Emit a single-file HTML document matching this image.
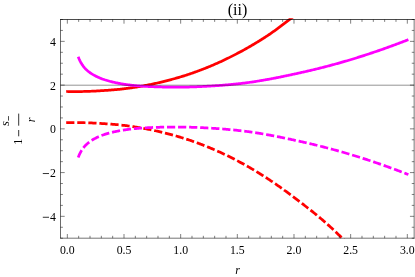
<!DOCTYPE html>
<html><head><meta charset="utf-8"><title>plot</title>
<style>html,body{margin:0;padding:0;background:#fff;}svg{display:block;will-change:transform;opacity:0.999;}text{font-family:"Liberation Serif",serif;fill:#000;}</style></head><body>
<svg width="415" height="277" viewBox="0 0 415 277">
<rect width="415" height="277" fill="#fff"/>
<defs><clipPath id="c"><rect x="59.20" y="18.20" width="356.25" height="220.70"/></clipPath></defs>
<g clip-path="url(#c)" fill="none" stroke-width="2.75" stroke-linejoin="round">
<path d="M66.20 91.47 L67.19 91.50 L68.18 91.52 L69.17 91.54 L70.16 91.56 L71.15 91.57 L72.14 91.58 L73.13 91.58 L74.12 91.59 L75.11 91.59 L76.10 91.59 L77.09 91.58 L78.08 91.58 L79.07 91.57 L80.06 91.55 L81.05 91.54 L82.04 91.52 L83.03 91.50 L84.02 91.48 L85.01 91.45 L86.00 91.42 L87.00 91.39 L87.99 91.36 L88.98 91.33 L89.97 91.29 L90.96 91.25 L91.95 91.21 L92.94 91.16 L93.93 91.12 L94.92 91.07 L95.91 91.02 L96.90 90.97 L97.89 90.91 L98.88 90.86 L99.87 90.80 L100.86 90.74 L101.85 90.68 L102.84 90.61 L103.83 90.55 L104.82 90.48 L105.81 90.41 L106.80 90.34 L107.79 90.27 L108.79 90.20 L109.78 90.13 L110.77 90.05 L111.76 89.97 L112.75 89.89 L113.74 89.81 L114.73 89.73 L115.72 89.64 L116.71 89.55 L117.70 89.46 L118.69 89.36 L119.68 89.26 L120.67 89.16 L121.66 89.05 L122.65 88.94 L123.64 88.83 L124.63 88.71 L125.62 88.59 L126.61 88.47 L127.60 88.34 L128.59 88.21 L129.58 88.07 L130.58 87.93 L131.57 87.79 L132.56 87.64 L133.55 87.49 L134.54 87.34 L135.53 87.19 L136.52 87.03 L137.51 86.87 L138.50 86.71 L139.49 86.54 L140.48 86.37 L141.47 86.19 L142.46 86.02 L143.45 85.84 L144.44 85.66 L145.43 85.47 L146.42 85.28 L147.41 85.09 L148.40 84.89 L149.39 84.70 L150.38 84.50 L151.37 84.29 L152.36 84.08 L153.36 83.87 L154.35 83.66 L155.34 83.44 L156.33 83.22 L157.32 83.00 L158.31 82.77 L159.30 82.54 L160.29 82.31 L161.28 82.07 L162.27 81.83 L163.26 81.59 L164.25 81.35 L165.24 81.10 L166.23 80.85 L167.22 80.59 L168.21 80.33 L169.20 80.07 L170.19 79.81 L171.18 79.55 L172.17 79.28 L173.16 79.01 L174.15 78.73 L175.15 78.46 L176.14 78.18 L177.13 77.90 L178.12 77.61 L179.11 77.32 L180.10 77.03 L181.09 76.73 L182.08 76.43 L183.07 76.13 L184.06 75.82 L185.05 75.51 L186.04 75.19 L187.03 74.87 L188.02 74.55 L189.01 74.22 L190.00 73.89 L190.99 73.55 L191.98 73.21 L192.97 72.86 L193.96 72.51 L194.95 72.16 L195.94 71.80 L196.94 71.44 L197.93 71.07 L198.92 70.71 L199.91 70.33 L200.90 69.96 L201.89 69.58 L202.88 69.19 L203.87 68.80 L204.86 68.41 L205.85 68.02 L206.84 67.62 L207.83 67.22 L208.82 66.81 L209.81 66.40 L210.80 65.98 L211.79 65.57 L212.78 65.14 L213.77 64.72 L214.76 64.29 L215.75 63.85 L216.74 63.42 L217.73 62.98 L218.72 62.53 L219.72 62.08 L220.71 61.63 L221.70 61.17 L222.69 60.71 L223.68 60.25 L224.67 59.78 L225.66 59.31 L226.65 58.83 L227.64 58.35 L228.63 57.87 L229.62 57.38 L230.61 56.89 L231.60 56.39 L232.59 55.89 L233.58 55.39 L234.57 54.88 L235.56 54.37 L236.55 53.85 L237.54 53.33 L238.53 52.81 L239.52 52.28 L240.51 51.75 L241.51 51.21 L242.50 50.67 L243.49 50.13 L244.48 49.58 L245.47 49.02 L246.46 48.47 L247.45 47.91 L248.44 47.34 L249.43 46.77 L250.42 46.20 L251.41 45.62 L252.40 45.04 L253.39 44.45 L254.38 43.86 L255.37 43.27 L256.36 42.67 L257.35 42.07 L258.34 41.46 L259.33 40.85 L260.32 40.23 L261.31 39.61 L262.30 38.99 L263.30 38.36 L264.29 37.73 L265.28 37.09 L266.27 36.45 L267.26 35.80 L268.25 35.16 L269.24 34.50 L270.23 33.82 L271.22 33.14 L272.21 32.45 L273.20 31.74 L274.19 31.03 L275.18 30.32 L276.17 29.59 L277.16 28.87 L278.15 28.14 L279.14 27.40 L280.13 26.67 L281.12 25.93 L282.11 25.18 L283.10 24.43 L284.09 23.67 L285.09 22.91 L286.08 22.16 L287.07 21.40 L288.06 20.64 L289.05 19.89 L290.04 19.13 L291.03 18.37 L292.02 17.62 L293.01 16.87 L294.00 16.12 L294.99 15.38 L295.98 14.63 L296.97 13.89 L297.96 13.14 L298.95 12.40 L299.94 11.64 L300.93 10.89 L301.92 10.13 L302.91 9.37 L303.90 8.60 L304.89 7.83 L305.88 7.05 L306.87 6.28 L307.87 5.50 L308.86 4.72 L309.85 3.95 L310.84 3.17 L311.83 2.38 L312.82 1.60 L313.81 0.81 L314.80 0.01 L315.79 -0.79 L316.78 -1.60 L317.77 -2.41 L318.76 -3.24 L319.75 -4.07 L320.74 -4.91 L321.73 -5.76 L322.72 -6.61 L323.71 -7.47 L324.70 -8.34 L325.69 -9.21 L326.68 -10.08 L327.67 -10.97 L328.66 -11.85 L329.66 -12.75 L330.65 -13.65 L331.64 -14.56 L332.63 -15.47 L333.62 -16.39 L334.61 -17.32 L335.60 -18.25 L336.59 -19.19 L337.58 -20.14 L338.57 -21.10 L339.56 -22.05 L340.55 -23.02 L341.54 -23.99 L342.53 -24.97 L343.52 -25.96 L344.51 -26.95 L345.50 -27.94 L346.49 -28.95 L347.48 -29.95 L348.47 -30.97 L349.46 -31.99 L350.45 -33.01 L351.45 -34.04 L352.44 -35.08 L353.43 -36.12 L354.42 -37.16 L355.41 -38.22 L356.40 -39.28 L357.39 -40.34 L358.38 -41.41 L359.37 -42.49 L360.36 -43.57 L361.35 -44.66 L362.34 -45.75" stroke="#ff0000"/>
<path d="M78.18 56.69 L79.01 58.77 L79.84 60.59 L80.66 62.19 L81.49 63.62 L82.32 64.90 L83.15 66.06 L83.98 67.11 L84.80 68.07 L85.63 68.95 L86.46 69.77 L87.29 70.52 L88.11 71.22 L88.94 71.88 L89.77 72.50 L90.60 73.08 L91.42 73.63 L92.25 74.16 L93.08 74.66 L93.91 75.13 L94.73 75.59 L95.56 76.02 L96.39 76.44 L97.22 76.84 L98.04 77.22 L98.87 77.59 L99.70 77.94 L100.53 78.28 L101.35 78.61 L102.18 78.92 L103.01 79.22 L103.84 79.51 L104.66 79.79 L105.49 80.05 L106.32 80.31 L107.15 80.55 L107.97 80.79 L108.80 81.02 L109.63 81.24 L110.46 81.46 L111.28 81.67 L112.11 81.87 L112.94 82.07 L113.77 82.26 L114.60 82.44 L115.42 82.63 L116.25 82.80 L117.08 82.97 L117.91 83.14 L118.73 83.30 L119.56 83.45 L120.39 83.60 L121.22 83.75 L122.04 83.89 L122.87 84.03 L123.70 84.16 L124.53 84.29 L125.35 84.42 L126.18 84.54 L127.01 84.65 L127.84 84.76 L128.66 84.87 L129.49 84.97 L130.32 85.07 L131.15 85.17 L131.97 85.26 L132.80 85.35 L133.63 85.44 L134.46 85.52 L135.28 85.60 L136.11 85.68 L136.94 85.75 L137.77 85.82 L138.59 85.89 L139.42 85.96 L140.25 86.02 L141.08 86.08 L141.90 86.14 L142.73 86.20 L143.56 86.25 L144.39 86.30 L145.21 86.35 L146.04 86.40 L146.87 86.45 L147.70 86.49 L148.53 86.53 L149.35 86.57 L150.18 86.61 L151.01 86.65 L151.84 86.68 L152.66 86.72 L153.49 86.75 L154.32 86.78 L155.15 86.81 L155.97 86.83 L156.80 86.86 L157.63 86.89 L158.46 86.91 L159.28 86.93 L160.11 86.96 L160.94 86.98 L161.77 87.00 L162.59 87.02 L163.42 87.04 L164.25 87.05 L165.08 87.07 L165.90 87.09 L166.73 87.10 L167.56 87.12 L168.39 87.13 L169.21 87.14 L170.04 87.15 L170.87 87.16 L171.70 87.17 L172.52 87.18 L173.35 87.18 L174.18 87.19 L175.01 87.19 L175.83 87.19 L176.66 87.19 L177.49 87.19 L178.32 87.18 L179.15 87.18 L179.97 87.17 L180.80 87.16 L181.63 87.15 L182.46 87.14 L183.28 87.13 L184.11 87.12 L184.94 87.10 L185.77 87.09 L186.59 87.07 L187.42 87.05 L188.25 87.03 L189.08 87.01 L189.90 86.99 L190.73 86.97 L191.56 86.94 L192.39 86.91 L193.21 86.89 L194.04 86.86 L194.87 86.83 L195.70 86.80 L196.52 86.76 L197.35 86.73 L198.18 86.69 L199.01 86.66 L199.83 86.62 L200.66 86.58 L201.49 86.54 L202.32 86.50 L203.14 86.46 L203.97 86.41 L204.80 86.37 L205.63 86.32 L206.45 86.28 L207.28 86.23 L208.11 86.19 L208.94 86.14 L209.76 86.09 L210.59 86.05 L211.42 86.00 L212.25 85.95 L213.08 85.90 L213.90 85.85 L214.73 85.79 L215.56 85.74 L216.39 85.68 L217.21 85.63 L218.04 85.57 L218.87 85.51 L219.70 85.45 L220.52 85.39 L221.35 85.33 L222.18 85.26 L223.01 85.20 L223.83 85.13 L224.66 85.06 L225.49 84.99 L226.32 84.92 L227.14 84.84 L227.97 84.77 L228.80 84.69 L229.63 84.62 L230.45 84.54 L231.28 84.46 L232.11 84.38 L232.94 84.30 L233.76 84.22 L234.59 84.13 L235.42 84.05 L236.25 83.96 L237.07 83.87 L237.90 83.78 L238.73 83.69 L239.56 83.60 L240.38 83.51 L241.21 83.41 L242.04 83.32 L242.87 83.22 L243.70 83.12 L244.52 83.02 L245.35 82.91 L246.18 82.81 L247.01 82.70 L247.83 82.60 L248.66 82.49 L249.49 82.37 L250.32 82.26 L251.14 82.14 L251.97 82.02 L252.80 81.90 L253.63 81.78 L254.45 81.65 L255.28 81.52 L256.11 81.39 L256.94 81.26 L257.76 81.13 L258.59 81.00 L259.42 80.86 L260.25 80.72 L261.07 80.58 L261.90 80.44 L262.73 80.30 L263.56 80.16 L264.38 80.01 L265.21 79.87 L266.04 79.72 L266.87 79.57 L267.69 79.43 L268.52 79.28 L269.35 79.13 L270.18 78.98 L271.00 78.83 L271.83 78.67 L272.66 78.52 L273.49 78.36 L274.31 78.21 L275.14 78.05 L275.97 77.89 L276.80 77.72 L277.63 77.56 L278.45 77.40 L279.28 77.23 L280.11 77.06 L280.94 76.89 L281.76 76.72 L282.59 76.55 L283.42 76.38 L284.25 76.21 L285.07 76.03 L285.90 75.86 L286.73 75.68 L287.56 75.51 L288.38 75.33 L289.21 75.15 L290.04 74.98 L290.87 74.80 L291.69 74.62 L292.52 74.44 L293.35 74.26 L294.18 74.08 L295.00 73.91 L295.83 73.73 L296.66 73.55 L297.49 73.37 L298.31 73.19 L299.14 73.01 L299.97 72.83 L300.80 72.64 L301.62 72.46 L302.45 72.28 L303.28 72.09 L304.11 71.90 L304.93 71.72 L305.76 71.53 L306.59 71.34 L307.42 71.15 L308.25 70.95 L309.07 70.76 L309.90 70.57 L310.73 70.37 L311.56 70.17 L312.38 69.98 L313.21 69.78 L314.04 69.58 L314.87 69.38 L315.69 69.18 L316.52 68.97 L317.35 68.77 L318.18 68.57 L319.00 68.36 L319.83 68.15 L320.66 67.95 L321.49 67.74 L322.31 67.53 L323.14 67.32 L323.97 67.10 L324.80 66.89 L325.62 66.67 L326.45 66.46 L327.28 66.24 L328.11 66.02 L328.93 65.81 L329.76 65.59 L330.59 65.36 L331.42 65.14 L332.24 64.92 L333.07 64.69 L333.90 64.47 L334.73 64.24 L335.55 64.01 L336.38 63.79 L337.21 63.56 L338.04 63.32 L338.87 63.09 L339.69 62.86 L340.52 62.62 L341.35 62.39 L342.18 62.15 L343.00 61.91 L343.83 61.67 L344.66 61.43 L345.49 61.19 L346.31 60.95 L347.14 60.71 L347.97 60.46 L348.80 60.22 L349.62 59.97 L350.45 59.72 L351.28 59.47 L352.11 59.22 L352.93 58.97 L353.76 58.72 L354.59 58.46 L355.42 58.21 L356.24 57.95 L357.07 57.69 L357.90 57.44 L358.73 57.18 L359.55 56.92 L360.38 56.65 L361.21 56.39 L362.04 56.13 L362.86 55.86 L363.69 55.60 L364.52 55.33 L365.35 55.06 L366.17 54.79 L367.00 54.52 L367.83 54.25 L368.66 53.98 L369.48 53.70 L370.31 53.43 L371.14 53.15 L371.97 52.87 L372.80 52.60 L373.62 52.32 L374.45 52.04 L375.28 51.76 L376.11 51.47 L376.93 51.19 L377.76 50.90 L378.59 50.62 L379.42 50.33 L380.24 50.04 L381.07 49.76 L381.90 49.47 L382.73 49.17 L383.55 48.88 L384.38 48.59 L385.21 48.29 L386.04 48.00 L386.86 47.70 L387.69 47.41 L388.52 47.11 L389.35 46.81 L390.17 46.51 L391.00 46.21 L391.83 45.90 L392.66 45.60 L393.48 45.29 L394.31 44.99 L395.14 44.68 L395.97 44.37 L396.79 44.07 L397.62 43.76 L398.45 43.44 L399.28 43.13 L400.10 42.82 L400.93 42.51 L401.76 42.19 L402.59 41.87 L403.42 41.56 L404.24 41.24 L405.07 40.92 L405.90 40.60 L406.73 40.28 L407.55 39.96 L408.38 39.63" stroke="#ff00ff"/>
<path d="M66.20 122.73 L67.19 122.70 L68.18 122.68 L69.17 122.66 L70.16 122.64 L71.15 122.63 L72.14 122.62 L73.13 122.62 L74.12 122.61 L75.11 122.61 L76.10 122.61 L77.09 122.62 L78.08 122.62 L79.07 122.63 L80.06 122.65 L81.05 122.66 L82.04 122.68 L83.03 122.70 L84.02 122.72 L85.01 122.75 L86.00 122.78 L87.00 122.81 L87.99 122.84 L88.98 122.87 L89.97 122.91 L90.96 122.95 L91.95 122.99 L92.94 123.04 L93.93 123.08 L94.92 123.13 L95.91 123.18 L96.90 123.23 L97.89 123.29 L98.88 123.34 L99.87 123.40 L100.86 123.46 L101.85 123.52 L102.84 123.59 L103.83 123.65 L104.82 123.72 L105.81 123.79 L106.80 123.86 L107.79 123.93 L108.79 124.00 L109.78 124.07 L110.77 124.15 L111.76 124.23 L112.75 124.31 L113.74 124.39 L114.73 124.47 L115.72 124.56 L116.71 124.65 L117.70 124.74 L118.69 124.84 L119.68 124.94 L120.67 125.04 L121.66 125.15 L122.65 125.26 L123.64 125.37 L124.63 125.49 L125.62 125.61 L126.61 125.73 L127.60 125.86 L128.59 125.99 L129.58 126.13 L130.58 126.27 L131.57 126.41 L132.56 126.56 L133.55 126.71 L134.54 126.86 L135.53 127.01 L136.52 127.17 L137.51 127.33 L138.50 127.49 L139.49 127.66 L140.48 127.83 L141.47 128.01 L142.46 128.18 L143.45 128.36 L144.44 128.54 L145.43 128.73 L146.42 128.92 L147.41 129.11 L148.40 129.31 L149.39 129.50 L150.38 129.70 L151.37 129.91 L152.36 130.12 L153.36 130.33 L154.35 130.54 L155.34 130.76 L156.33 130.98 L157.32 131.20 L158.31 131.43 L159.30 131.66 L160.29 131.89 L161.28 132.13 L162.27 132.37 L163.26 132.61 L164.25 132.85 L165.24 133.10 L166.23 133.35 L167.22 133.61 L168.21 133.87 L169.20 134.13 L170.19 134.39 L171.18 134.65 L172.17 134.92 L173.16 135.19 L174.15 135.47 L175.15 135.74 L176.14 136.02 L177.13 136.30 L178.12 136.59 L179.11 136.88 L180.10 137.17 L181.09 137.47 L182.08 137.77 L183.07 138.07 L184.06 138.38 L185.05 138.69 L186.04 139.01 L187.03 139.33 L188.02 139.65 L189.01 139.98 L190.00 140.31 L190.99 140.65 L191.98 140.99 L192.97 141.34 L193.96 141.69 L194.95 142.04 L195.94 142.40 L196.94 142.76 L197.93 143.13 L198.92 143.49 L199.91 143.87 L200.90 144.24 L201.89 144.62 L202.88 145.01 L203.87 145.40 L204.86 145.79 L205.85 146.18 L206.84 146.58 L207.83 146.98 L208.82 147.39 L209.81 147.80 L210.80 148.22 L211.79 148.63 L212.78 149.06 L213.77 149.48 L214.76 149.91 L215.75 150.35 L216.74 150.78 L217.73 151.22 L218.72 151.67 L219.72 152.12 L220.71 152.57 L221.70 153.03 L222.69 153.49 L223.68 153.95 L224.67 154.42 L225.66 154.89 L226.65 155.37 L227.64 155.85 L228.63 156.33 L229.62 156.82 L230.61 157.31 L231.60 157.81 L232.59 158.31 L233.58 158.81 L234.57 159.32 L235.56 159.83 L236.55 160.35 L237.54 160.87 L238.53 161.39 L239.52 161.92 L240.51 162.45 L241.51 162.99 L242.50 163.53 L243.49 164.07 L244.48 164.62 L245.47 165.18 L246.46 165.73 L247.45 166.29 L248.44 166.86 L249.43 167.43 L250.42 168.00 L251.41 168.58 L252.40 169.16 L253.39 169.75 L254.38 170.34 L255.37 170.93 L256.36 171.53 L257.35 172.13 L258.34 172.74 L259.33 173.35 L260.32 173.97 L261.31 174.59 L262.30 175.21 L263.30 175.84 L264.29 176.47 L265.28 177.11 L266.27 177.75 L267.26 178.40 L268.25 179.04 L269.24 179.70 L270.23 180.36 L271.22 181.02 L272.21 181.68 L273.20 182.36 L274.19 183.03 L275.18 183.71 L276.17 184.39 L277.16 185.08 L278.15 185.78 L279.14 186.47 L280.13 187.18 L281.12 187.88 L282.11 188.59 L283.10 189.31 L284.09 190.03 L285.09 190.75 L286.08 191.48 L287.07 192.22 L288.06 192.96 L289.05 193.70 L290.04 194.45 L291.03 195.19 L292.02 195.94 L293.01 196.69 L294.00 197.43 L294.99 198.17 L295.98 198.92 L296.97 199.66 L297.96 200.41 L298.95 201.15 L299.94 201.91 L300.93 202.66 L301.92 203.42 L302.91 204.18 L303.90 204.95 L304.89 205.72 L305.88 206.50 L306.87 207.27 L307.87 208.05 L308.86 208.83 L309.85 209.60 L310.84 210.38 L311.83 211.17 L312.82 211.95 L313.81 212.74 L314.80 213.54 L315.79 214.34 L316.78 215.15 L317.77 215.96 L318.76 216.79 L319.75 217.62 L320.74 218.46 L321.73 219.31 L322.72 220.16 L323.71 221.02 L324.70 221.89 L325.69 222.76 L326.68 223.63 L327.67 224.52 L328.66 225.40 L329.66 226.30 L330.65 227.20 L331.64 228.11 L332.63 229.02 L333.62 229.94 L334.61 230.87 L335.60 231.80 L336.59 232.74 L337.58 233.69 L338.57 234.65 L339.56 235.60 L340.55 236.57 L341.54 237.54 L342.53 238.52 L343.52 239.51 L344.51 240.50 L345.50 241.49 L346.49 242.50 L347.48 243.50 L348.47 244.52 L349.46 245.54 L350.45 246.56 L351.45 247.59 L352.44 248.63 L353.43 249.67 L354.42 250.71 L355.41 251.77 L356.40 252.83 L357.39 253.89 L358.38 254.96 L359.37 256.04 L360.36 257.12 L361.35 258.21 L362.34 259.30" stroke="#ff0000" stroke-dasharray="8.2 2.87"/>
<path d="M78.18 157.51 L79.01 155.43 L79.84 153.61 L80.66 152.01 L81.49 150.58 L82.32 149.30 L83.15 148.14 L83.98 147.09 L84.80 146.13 L85.63 145.25 L86.46 144.43 L87.29 143.68 L88.11 142.98 L88.94 142.32 L89.77 141.70 L90.60 141.12 L91.42 140.57 L92.25 140.04 L93.08 139.54 L93.91 139.07 L94.73 138.61 L95.56 138.18 L96.39 137.76 L97.22 137.36 L98.04 136.98 L98.87 136.61 L99.70 136.26 L100.53 135.92 L101.35 135.59 L102.18 135.28 L103.01 134.98 L103.84 134.69 L104.66 134.41 L105.49 134.15 L106.32 133.89 L107.15 133.65 L107.97 133.41 L108.80 133.18 L109.63 132.96 L110.46 132.74 L111.28 132.53 L112.11 132.33 L112.94 132.13 L113.77 131.94 L114.60 131.76 L115.42 131.57 L116.25 131.40 L117.08 131.23 L117.91 131.06 L118.73 130.90 L119.56 130.75 L120.39 130.60 L121.22 130.45 L122.04 130.31 L122.87 130.17 L123.70 130.04 L124.53 129.91 L125.35 129.78 L126.18 129.66 L127.01 129.55 L127.84 129.44 L128.66 129.33 L129.49 129.23 L130.32 129.13 L131.15 129.03 L131.97 128.94 L132.80 128.85 L133.63 128.76 L134.46 128.68 L135.28 128.60 L136.11 128.52 L136.94 128.45 L137.77 128.38 L138.59 128.31 L139.42 128.24 L140.25 128.18 L141.08 128.12 L141.90 128.06 L142.73 128.00 L143.56 127.95 L144.39 127.90 L145.21 127.85 L146.04 127.80 L146.87 127.75 L147.70 127.71 L148.53 127.67 L149.35 127.63 L150.18 127.59 L151.01 127.55 L151.84 127.52 L152.66 127.48 L153.49 127.45 L154.32 127.42 L155.15 127.39 L155.97 127.37 L156.80 127.34 L157.63 127.31 L158.46 127.29 L159.28 127.27 L160.11 127.24 L160.94 127.22 L161.77 127.20 L162.59 127.18 L163.42 127.16 L164.25 127.15 L165.08 127.13 L165.90 127.11 L166.73 127.10 L167.56 127.08 L168.39 127.07 L169.21 127.06 L170.04 127.05 L170.87 127.04 L171.70 127.03 L172.52 127.02 L173.35 127.02 L174.18 127.01 L175.01 127.01 L175.83 127.01 L176.66 127.01 L177.49 127.01 L178.32 127.02 L179.15 127.02 L179.97 127.03 L180.80 127.04 L181.63 127.05 L182.46 127.06 L183.28 127.07 L184.11 127.08 L184.94 127.10 L185.77 127.11 L186.59 127.13 L187.42 127.15 L188.25 127.17 L189.08 127.19 L189.90 127.21 L190.73 127.23 L191.56 127.26 L192.39 127.29 L193.21 127.31 L194.04 127.34 L194.87 127.37 L195.70 127.40 L196.52 127.44 L197.35 127.47 L198.18 127.51 L199.01 127.54 L199.83 127.58 L200.66 127.62 L201.49 127.66 L202.32 127.70 L203.14 127.74 L203.97 127.79 L204.80 127.83 L205.63 127.88 L206.45 127.92 L207.28 127.97 L208.11 128.01 L208.94 128.06 L209.76 128.11 L210.59 128.15 L211.42 128.20 L212.25 128.25 L213.08 128.30 L213.90 128.35 L214.73 128.41 L215.56 128.46 L216.39 128.52 L217.21 128.57 L218.04 128.63 L218.87 128.69 L219.70 128.75 L220.52 128.81 L221.35 128.87 L222.18 128.94 L223.01 129.00 L223.83 129.07 L224.66 129.14 L225.49 129.21 L226.32 129.28 L227.14 129.36 L227.97 129.43 L228.80 129.51 L229.63 129.58 L230.45 129.66 L231.28 129.74 L232.11 129.82 L232.94 129.90 L233.76 129.98 L234.59 130.07 L235.42 130.15 L236.25 130.24 L237.07 130.33 L237.90 130.42 L238.73 130.51 L239.56 130.60 L240.38 130.69 L241.21 130.79 L242.04 130.88 L242.87 130.98 L243.70 131.08 L244.52 131.18 L245.35 131.29 L246.18 131.39 L247.01 131.50 L247.83 131.60 L248.66 131.71 L249.49 131.83 L250.32 131.94 L251.14 132.06 L251.97 132.18 L252.80 132.30 L253.63 132.42 L254.45 132.55 L255.28 132.68 L256.11 132.81 L256.94 132.94 L257.76 133.07 L258.59 133.20 L259.42 133.34 L260.25 133.48 L261.07 133.62 L261.90 133.76 L262.73 133.90 L263.56 134.04 L264.38 134.19 L265.21 134.33 L266.04 134.48 L266.87 134.63 L267.69 134.77 L268.52 134.92 L269.35 135.07 L270.18 135.22 L271.00 135.37 L271.83 135.53 L272.66 135.68 L273.49 135.84 L274.31 135.99 L275.14 136.15 L275.97 136.31 L276.80 136.48 L277.63 136.64 L278.45 136.80 L279.28 136.97 L280.11 137.14 L280.94 137.31 L281.76 137.48 L282.59 137.65 L283.42 137.82 L284.25 137.99 L285.07 138.17 L285.90 138.34 L286.73 138.52 L287.56 138.69 L288.38 138.87 L289.21 139.05 L290.04 139.22 L290.87 139.40 L291.69 139.58 L292.52 139.76 L293.35 139.94 L294.18 140.12 L295.00 140.29 L295.83 140.47 L296.66 140.65 L297.49 140.83 L298.31 141.01 L299.14 141.19 L299.97 141.37 L300.80 141.56 L301.62 141.74 L302.45 141.92 L303.28 142.11 L304.11 142.30 L304.93 142.48 L305.76 142.67 L306.59 142.86 L307.42 143.05 L308.25 143.25 L309.07 143.44 L309.90 143.63 L310.73 143.83 L311.56 144.03 L312.38 144.22 L313.21 144.42 L314.04 144.62 L314.87 144.82 L315.69 145.02 L316.52 145.23 L317.35 145.43 L318.18 145.63 L319.00 145.84 L319.83 146.05 L320.66 146.25 L321.49 146.46 L322.31 146.67 L323.14 146.88 L323.97 147.10 L324.80 147.31 L325.62 147.53 L326.45 147.74 L327.28 147.96 L328.11 148.18 L328.93 148.39 L329.76 148.61 L330.59 148.84 L331.42 149.06 L332.24 149.28 L333.07 149.51 L333.90 149.73 L334.73 149.96 L335.55 150.19 L336.38 150.41 L337.21 150.64 L338.04 150.88 L338.87 151.11 L339.69 151.34 L340.52 151.58 L341.35 151.81 L342.18 152.05 L343.00 152.29 L343.83 152.53 L344.66 152.77 L345.49 153.01 L346.31 153.25 L347.14 153.49 L347.97 153.74 L348.80 153.98 L349.62 154.23 L350.45 154.48 L351.28 154.73 L352.11 154.98 L352.93 155.23 L353.76 155.48 L354.59 155.74 L355.42 155.99 L356.24 156.25 L357.07 156.51 L357.90 156.76 L358.73 157.02 L359.55 157.28 L360.38 157.55 L361.21 157.81 L362.04 158.07 L362.86 158.34 L363.69 158.60 L364.52 158.87 L365.35 159.14 L366.17 159.41 L367.00 159.68 L367.83 159.95 L368.66 160.22 L369.48 160.50 L370.31 160.77 L371.14 161.05 L371.97 161.33 L372.80 161.60 L373.62 161.88 L374.45 162.16 L375.28 162.44 L376.11 162.73 L376.93 163.01 L377.76 163.30 L378.59 163.58 L379.42 163.87 L380.24 164.16 L381.07 164.44 L381.90 164.73 L382.73 165.03 L383.55 165.32 L384.38 165.61 L385.21 165.91 L386.04 166.20 L386.86 166.50 L387.69 166.79 L388.52 167.09 L389.35 167.39 L390.17 167.69 L391.00 167.99 L391.83 168.30 L392.66 168.60 L393.48 168.91 L394.31 169.21 L395.14 169.52 L395.97 169.83 L396.79 170.13 L397.62 170.44 L398.45 170.76 L399.28 171.07 L400.10 171.38 L400.93 171.69 L401.76 172.01 L402.59 172.33 L403.42 172.64 L404.24 172.96 L405.07 173.28 L405.90 173.60 L406.73 173.92 L407.55 174.24 L408.38 174.57" stroke="#ff00ff" stroke-dasharray="8.2 2.86"/>
</g>
<line x1="60.50" y1="85.20" x2="414.15" y2="85.20" stroke="#000" stroke-opacity="0.5" stroke-width="0.85"/>
<g stroke="#000" stroke-width="0.55" fill="none">
<g stroke-width="1"><path d="M60.00 19.50H414.65" stroke-opacity="0.7"/><path d="M60.50 19.50V238.20" stroke-opacity="0.58"/></g><path d="M60.00 238.20H414.45" stroke-width="0.55"/><path d="M414.15 19.00V238.50" stroke-width="0.55"/>
<path d="M67.33 238.20v-4.20M67.33 19.50v4.20M78.66 238.20v-2.40M78.66 19.50v2.40M90.00 238.20v-2.40M90.00 19.50v2.40M101.33 238.20v-2.40M101.33 19.50v2.40M112.66 238.20v-2.40M112.66 19.50v2.40M124.00 238.20v-4.20M124.00 19.50v4.20M135.33 238.20v-2.40M135.33 19.50v2.40M146.66 238.20v-2.40M146.66 19.50v2.40M157.99 238.20v-2.40M157.99 19.50v2.40M169.33 238.20v-2.40M169.33 19.50v2.40M180.66 238.20v-4.20M180.66 19.50v4.20M191.99 238.20v-2.40M191.99 19.50v2.40M203.33 238.20v-2.40M203.33 19.50v2.40M214.66 238.20v-2.40M214.66 19.50v2.40M225.99 238.20v-2.40M225.99 19.50v2.40M237.32 238.20v-4.20M237.32 19.50v4.20M248.66 238.20v-2.40M248.66 19.50v2.40M259.99 238.20v-2.40M259.99 19.50v2.40M271.32 238.20v-2.40M271.32 19.50v2.40M282.66 238.20v-2.40M282.66 19.50v2.40M293.99 238.20v-4.20M293.99 19.50v4.20M305.32 238.20v-2.40M305.32 19.50v2.40M316.66 238.20v-2.40M316.66 19.50v2.40M327.99 238.20v-2.40M327.99 19.50v2.40M339.32 238.20v-2.40M339.32 19.50v2.40M350.65 238.20v-4.20M350.65 19.50v4.20M361.99 238.20v-2.40M361.99 19.50v2.40M373.32 238.20v-2.40M373.32 19.50v2.40M384.65 238.20v-2.40M384.65 19.50v2.40M395.99 238.20v-2.40M395.99 19.50v2.40M407.32 238.20v-4.20M407.32 19.50v4.20M60.50 238.20h2.40M414.15 238.20h-2.40M60.50 227.26h2.40M414.15 227.26h-2.40M60.50 216.33h4.20M414.15 216.33h-4.20M60.50 205.39h2.40M414.15 205.39h-2.40M60.50 194.46h2.40M414.15 194.46h-2.40M60.50 183.53h2.40M414.15 183.53h-2.40M60.50 172.59h4.20M414.15 172.59h-4.20M60.50 161.66h2.40M414.15 161.66h-2.40M60.50 150.72h2.40M414.15 150.72h-2.40M60.50 139.78h2.40M414.15 139.78h-2.40M60.50 128.85h4.20M414.15 128.85h-4.20M60.50 117.91h2.40M414.15 117.91h-2.40M60.50 106.98h2.40M414.15 106.98h-2.40M60.50 96.04h2.40M414.15 96.04h-2.40M60.50 85.11h4.20M414.15 85.11h-4.20M60.50 74.17h2.40M414.15 74.17h-2.40M60.50 63.24h2.40M414.15 63.24h-2.40M60.50 52.30h2.40M414.15 52.30h-2.40M60.50 41.37h4.20M414.15 41.37h-4.20M60.50 30.43h2.40M414.15 30.43h-2.40M60.50 19.50h2.40M414.15 19.50h-2.40" stroke-width="0.5"/>
</g>
<g font-size="11.8" text-anchor="middle">
<text x="67.33" y="254">0.0</text>
<text x="124.00" y="254">0.5</text>
<text x="180.66" y="254">1.0</text>
<text x="237.32" y="254">1.5</text>
<text x="293.99" y="254">2.0</text>
<text x="350.65" y="254">2.5</text>
<text x="407.32" y="254">3.0</text>
</g>
<g font-size="11.8" text-anchor="end">
<text x="56" y="220.73">4</text>
<line x1="42.8" y1="217.28" x2="49.0" y2="217.28" stroke="#000" stroke-width="0.8"/>
<text x="56" y="176.99">2</text>
<line x1="42.8" y1="173.54" x2="49.0" y2="173.54" stroke="#000" stroke-width="0.8"/>
<text x="56" y="133.25">0</text>
<text x="56" y="89.51">2</text>
<text x="56" y="45.77">4</text>
</g>
<text x="237.5" y="15.2" font-size="16" text-anchor="middle">(ii)</text>
<text x="237.6" y="274" font-size="12" font-style="italic" text-anchor="middle">r</text>
<g transform="translate(22.2,144.2) rotate(-90)" font-size="12">
<text x="-0.5" y="0">1</text>
<line x1="7.9" y1="-3.5" x2="14.2" y2="-3.5" stroke="#000" stroke-width="0.8"/>
<line x1="18.5" y1="-3.5" x2="30.6" y2="-3.5" stroke="#000" stroke-width="0.8"/>
<text x="18.3" y="-13.5" font-style="italic" font-size="12.5">s</text>
<line x1="23.6" y1="-13.7" x2="28.1" y2="-13.7" stroke="#000" stroke-width="0.7"/>
<text x="22" y="12.5" font-style="italic">r</text>
</g>
</svg></body></html>
